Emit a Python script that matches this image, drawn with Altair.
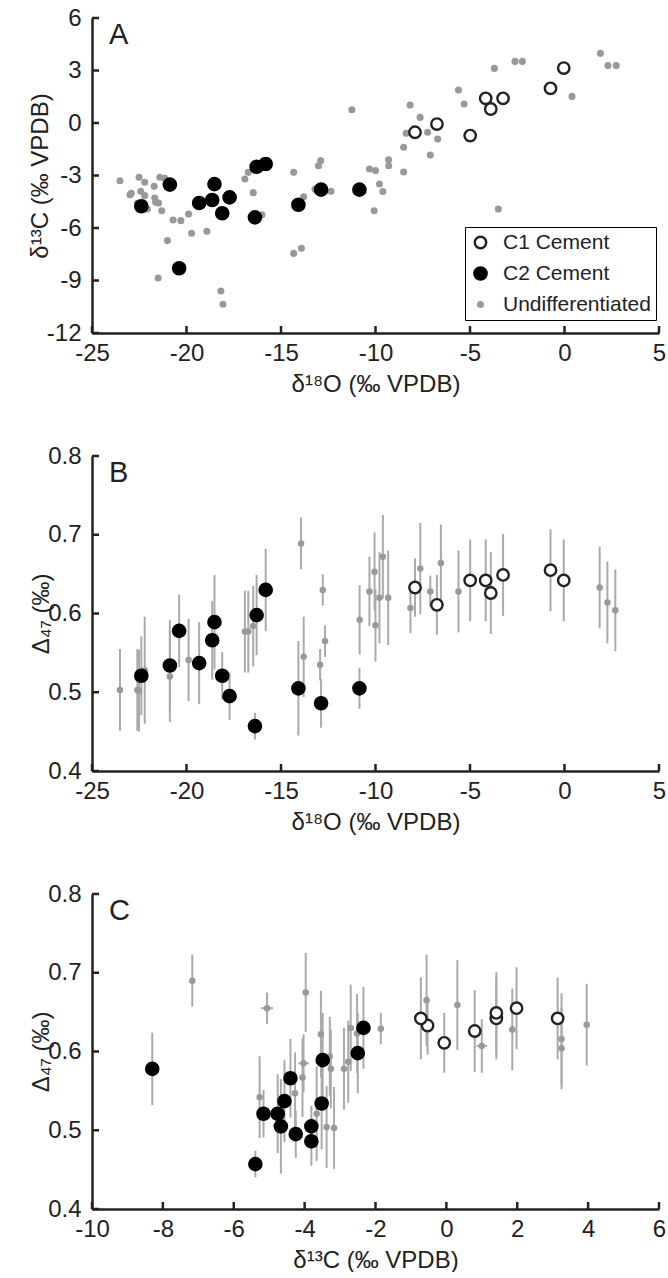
import altair as alt
import pandas as pd

FONT = "Liberation Sans"
W, H = 567, 315
GROUPS = ["C1 Cement", "C2 Cement", "Undifferentiated"]

# ---------------- C1 cement samples ----------------
c1_d18O = [-7.91, -6.75, -4.99, -4.17, -3.90, -3.25, -0.74, -0.04]
c1_d13C = [-0.53, -0.06, -0.72, 1.41, 0.80, 1.41, 1.98, 3.14]
c1_D47 = [0.633, 0.611, 0.642, 0.642, 0.626, 0.649, 0.655, 0.642]
c1_err = [0.037, 0.038, 0.052, 0.052, 0.052, 0.052, 0.052, 0.052]

# ---------------- C2 cement samples ----------------
c2_d18O = [-22.39, -20.88, -20.39, -19.33, -18.64, -18.52, -18.11, -17.72,
           -16.38, -16.29, -15.81, -14.08, -12.88, -10.85]
c2_d13C = [-4.76, -3.52, -8.30, -4.57, -4.40, -3.49, -5.16, -4.25,
           -5.39, -2.50, -2.34, -4.67, -3.81, -3.81]
c2_D47 = [0.521, 0.534, 0.578, 0.537, 0.566, 0.589, 0.521, 0.495,
          0.457, 0.598, 0.630, 0.505, 0.486, 0.505]
c2_err = [0.050, 0.058, 0.046, 0.052, 0.050, 0.060, 0.030, 0.030,
          0.017, 0.051, 0.052, 0.060, 0.031, 0.026]

# ---------------- Undifferentiated, panel A ----------------
ga_d18O = [-23.52, -22.51, -22.21, -21.71, -21.41, -21.15, -22.99, -22.92, -22.42, -22.21,
           -21.68, -21.63, -21.48, -22.60, -22.07, -21.31, -20.71, -20.30, -19.89, -21.01,
           -19.73, -18.92, -21.50, -18.18, -18.07, -16.91, -16.73, -16.47, -16.01, -14.33,
           -13.80, -14.33, -13.92, -13.02, -12.90, -13.20, -12.35, -11.25,
           -10.32, -10.00, -9.31, -9.30, -9.79, -9.61, -10.07, -8.51, -8.51, -8.17,
           -7.64, -8.38, -7.24, -6.71, -7.10, -5.61, -5.31, -3.71, -2.62, -2.23,
           -3.50, 0.40, 1.90, 2.30, 2.74]
ga_d13C = [-3.30, -3.10, -3.39, -3.62, -3.10, -3.16, -4.10, -4.02, -3.90, -4.15,
           -4.29, -4.53, -4.57, -4.59, -4.91, -5.01, -5.54, -5.58, -5.20, -6.72,
           -6.30, -6.19, -8.86, -9.60, -10.36, -3.20, -2.82, -3.98, -5.24, -2.82,
           -4.21, -7.45, -7.16, -2.44, -2.15, -3.77, -3.90, 0.76,
           -2.63, -2.72, -2.10, -2.44, -3.49, -3.91, -5.01, -1.39, -2.80, 1.03,
           0.32, -0.59, -0.53, -0.91, -1.83, 1.89, 1.09, 3.12, 3.52, 3.52,
           -4.91, 1.52, 3.98, 3.28, 3.28]

# ---------------- Undifferentiated, panel B ----------------
gb_d18O = [-23.52, -22.60, -22.51, -22.21, -20.88, -19.89, -16.91, -16.73, -16.47, -13.94,
           -13.80, -12.93, -12.79, -12.67, -10.84, -10.32, -10.05, -10.00, -9.79, -9.61,
           -9.33, -8.15, -7.63, -7.10, -6.54, -5.61, 1.86, 2.27, 2.69]
gb_D47 = [0.503, 0.503, 0.502, 0.528, 0.520, 0.541, 0.577, 0.577, 0.584, 0.689,
          0.545, 0.535, 0.630, 0.565, 0.592, 0.628, 0.653, 0.585, 0.620, 0.672,
          0.620, 0.607, 0.657, 0.628, 0.664, 0.628, 0.633, 0.614, 0.604]
gb_err = [0.052, 0.052, 0.052, 0.068, 0.058, 0.052, 0.052, 0.052, 0.051, 0.033,
          0.051, 0.020, 0.020, 0.020, 0.044, 0.044, 0.050, 0.046, 0.058, 0.053,
          0.060, 0.032, 0.058, 0.020, 0.049, 0.052, 0.052, 0.052, 0.052]

# ---------------- Undifferentiated, panel C ----------------
gc_d13C = [-7.17, -5.06, -3.97, -3.54, -4.03, -4.06, -3.29, -3.26, -2.70, -2.52,
           -2.77, -2.89, -1.85, -5.27, -4.27, -3.66, -3.38, -3.17, -0.56, 0.31,
           1.00, 1.86, 3.25, 3.25, 3.96]
gc_D47 = [0.690, 0.655, 0.675, 0.622, 0.585, 0.567, 0.594, 0.578, 0.630, 0.623,
          0.587, 0.578, 0.629, 0.542, 0.547, 0.521, 0.504, 0.503, 0.665, 0.659,
          0.607, 0.628, 0.616, 0.604, 0.634]
gc_err = [0.033, 0.020, 0.050, 0.055, 0.037, 0.050, 0.050, 0.050, 0.055, 0.050,
          0.052, 0.052, 0.020, 0.052, 0.052, 0.060, 0.052, 0.052, 0.058, 0.057,
          0.034, 0.052, 0.058, 0.052, 0.052]
gc_xerr = [0.0, 0.17, 0.0, 0.0, 0.15, 0.0, 0.0, 0.0, 0.0, 0.0,
           0.0, 0.0, 0.0, 0.0, 0.0, 0.0, 0.0, 0.0, 0.0, 0.0,
           0.15, 0.0, 0.0, 0.0, 0.0]

# ---------------- axes ----------------
xA_ticks = [-25, -20, -15, -10, -5, 0, 5]
yA_ticks = [-12, -9, -6, -3, 0, 3, 6]
yD_ticks = [0.4, 0.5, 0.6, 0.7, 0.8]
xC_ticks = [-10, -8, -6, -4, -2, 0, 2, 4, 6]

T18O = "δ¹⁸O (‰ VPDB)"
T13C = "δ¹³C (‰ VPDB)"
TD47 = "Δ₄₇ (‰)"

GRAY = "#999999"
ERR = "#aaaaaa"
DARK = "#222222"
SIZES = [130, 150, 22]


def cement_df(xs1, ys1, xs2, ys2):
    rows = []
    for x, y in zip(xs1, ys1):
        rows.append({"x": x, "y": y, "group": GROUPS[0]})
    for x, y in zip(xs2, ys2):
        rows.append({"x": x, "y": y, "group": GROUPS[1]})
    return pd.DataFrame(rows)


def enc_group(legend):
    return dict(
        fill=alt.Fill("group:N", scale=alt.Scale(type="ordinal", domain=GROUPS, range=["white", "black", GRAY]), legend=legend),
        stroke=alt.Stroke("group:N", scale=alt.Scale(type="ordinal", domain=GROUPS, range=[DARK, "black", GRAY]), legend=legend),
        size=alt.Size("group:N", scale=alt.Scale(type="ordinal", domain=GROUPS, range=SIZES), legend=legend),
    )


def ax(title, values):
    return alt.Axis(title=title, values=values, labelExpr="'' + datum.value")


def ticks_layers(xs, ys, xt, yt, xax, yax):
    tx = alt.Chart(pd.DataFrame({"v": xt})).mark_rule(color=DARK, strokeWidth=2.5).encode(
        x=alt.X("v:Q", scale=xs, axis=xax), y=alt.value(H), y2=alt.value(H - 7))
    ty = alt.Chart(pd.DataFrame({"v": yt})).mark_rule(color=DARK, strokeWidth=2.5).encode(
        y=alt.Y("v:Q", scale=ys, axis=yax), x=alt.value(0), x2=alt.value(7))
    return [tx, ty]


def letter(t):
    return alt.Chart(pd.DataFrame({"t": [t]})).mark_text(
        font=FONT, fontSize=29, align="left", baseline="alphabetic", color=DARK
    ).encode(text="t:N", x=alt.value(17), y=alt.value(26))


# ---------------- Panel A ----------------
xsA = alt.Scale(domain=[-25, 5], nice=False, zero=False)
ysA = alt.Scale(domain=[-12, 6], nice=False, zero=False)
axA_x = ax(T18O, xA_ticks)
axA_y = ax(T13C, yA_ticks)

rowsA = [{"x": x, "y": y, "group": GROUPS[2], "o": 0} for x, y in zip(ga_d18O, ga_d13C)]
dfA = pd.concat([pd.DataFrame(rowsA),
                 cement_df(c1_d18O, c1_d13C, c2_d18O, c2_d13C).assign(o=1)], ignore_index=True)

legendA = alt.Legend(title=None, orient="none", legendX=373, legendY=209,
                     strokeColor="black", fillColor="white", padding=5,
                     labelFont=FONT, labelFontSize=21, labelColor=DARK,
                     rowPadding=8, labelOffset=12, symbolStrokeWidth=2.4)

pointsA = alt.Chart(dfA).mark_circle(opacity=1, strokeWidth=2.4).encode(
    x=alt.X("x:Q", scale=xsA, axis=axA_x),
    y=alt.Y("y:Q", scale=ysA, axis=axA_y),
    order=alt.Order("o:Q"),
    **enc_group(legendA),
)

panelA = alt.layer(pointsA, *ticks_layers(xsA, ysA, xA_ticks, yA_ticks, axA_x, axA_y),
                   letter("A")).properties(width=W, height=H)

# ---------------- Panel B ----------------
ysD = alt.Scale(domain=[0.4, 0.8], nice=False, zero=False)
axB_x = ax(T18O, xA_ticks)
axD_y = ax(TD47, yD_ticks)

errB = pd.DataFrame({
    "x": gb_d18O + c1_d18O + c2_d18O,
    "lo": [v - e for v, e in zip(gb_D47 + c1_D47 + c2_D47, gb_err + c1_err + c2_err)],
    "hi": [v + e for v, e in zip(gb_D47 + c1_D47 + c2_D47, gb_err + c1_err + c2_err)],
})
barsB = alt.Chart(errB).mark_rule(color=ERR, strokeWidth=2).encode(
    x=alt.X("x:Q", scale=xsA, axis=axB_x),
    y=alt.Y("lo:Q", scale=ysD, axis=axD_y),
    y2="hi:Q",
)
grayB = alt.Chart(pd.DataFrame({"x": gb_d18O, "y": gb_D47})).mark_circle(
    color=GRAY, opacity=1, size=42).encode(
    x=alt.X("x:Q", scale=xsA, axis=axB_x), y=alt.Y("y:Q", scale=ysD, axis=axD_y))
cemB = alt.Chart(cement_df(c1_d18O, c1_D47, c2_d18O, c2_D47)).mark_circle(opacity=1, strokeWidth=2.4).encode(
    x=alt.X("x:Q", scale=xsA, axis=axB_x), y=alt.Y("y:Q", scale=ysD, axis=axD_y), **enc_group(None))

panelB = alt.layer(barsB, grayB, cemB, *ticks_layers(xsA, ysD, xA_ticks, yD_ticks, axB_x, axD_y),
                   letter("B")).properties(width=W, height=H)

# ---------------- Panel C ----------------
xsC = alt.Scale(domain=[-10, 6], nice=False, zero=False)
axC_x = ax(T13C, xC_ticks)

errC = pd.DataFrame({
    "x": gc_d13C + c1_d13C + c2_d13C,
    "lo": [v - e for v, e in zip(gc_D47 + c1_D47 + c2_D47, gc_err + c1_err + c2_err)],
    "hi": [v + e for v, e in zip(gc_D47 + c1_D47 + c2_D47, gc_err + c1_err + c2_err)],
})
barsC = alt.Chart(errC).mark_rule(color=ERR, strokeWidth=2).encode(
    x=alt.X("x:Q", scale=xsC, axis=axC_x),
    y=alt.Y("lo:Q", scale=ysD, axis=axD_y),
    y2="hi:Q",
)
xerrC = pd.DataFrame({
    "y": [v for v, e in zip(gc_D47, gc_xerr) if e > 0],
    "xlo": [x - e for x, e in zip(gc_d13C, gc_xerr) if e > 0],
    "xhi": [x + e for x, e in zip(gc_d13C, gc_xerr) if e > 0],
})
hbarsC = alt.Chart(xerrC).mark_rule(color=ERR, strokeWidth=2).encode(
    x=alt.X("xlo:Q", scale=xsC, axis=axC_x), x2="xhi:Q", y=alt.Y("y:Q", scale=ysD, axis=axD_y))
grayC = alt.Chart(pd.DataFrame({"x": gc_d13C, "y": gc_D47})).mark_circle(
    color=GRAY, opacity=1, size=42).encode(
    x=alt.X("x:Q", scale=xsC, axis=axC_x), y=alt.Y("y:Q", scale=ysD, axis=axD_y))
cemC = alt.Chart(cement_df(c1_d13C, c1_D47, c2_d13C, c2_D47)).mark_circle(opacity=1, strokeWidth=2.4).encode(
    x=alt.X("x:Q", scale=xsC, axis=axC_x), y=alt.Y("y:Q", scale=ysD, axis=axD_y), **enc_group(None))

panelC = alt.layer(barsC, hbarsC, grayC, cemC, *ticks_layers(xsC, ysD, xC_ticks, yD_ticks, axC_x, axD_y),
                   letter("C")).properties(width=W, height=H)

chart = alt.vconcat(panelA, panelB, panelC, spacing=48).properties(
    padding={"left": 28, "top": 6, "right": 0, "bottom": 0}
).configure_axis(
    domainColor=DARK, domainWidth=2.5, ticks=False, grid=False,
    labelFont=FONT, labelFontSize=24, labelColor=DARK,
    labelFlush=False, labelOverlap=False,
    titleFont=FONT, titleFontSize=24, titleFontWeight="normal", titleColor=DARK,
).configure_axisX(labelPadding=8, titlePadding=7).configure_axisY(
    labelPadding=11, titlePadding=-6).configure_view(stroke=None)

chart.save("out.html", embed_options={"renderer": "svg", "actions": False})
